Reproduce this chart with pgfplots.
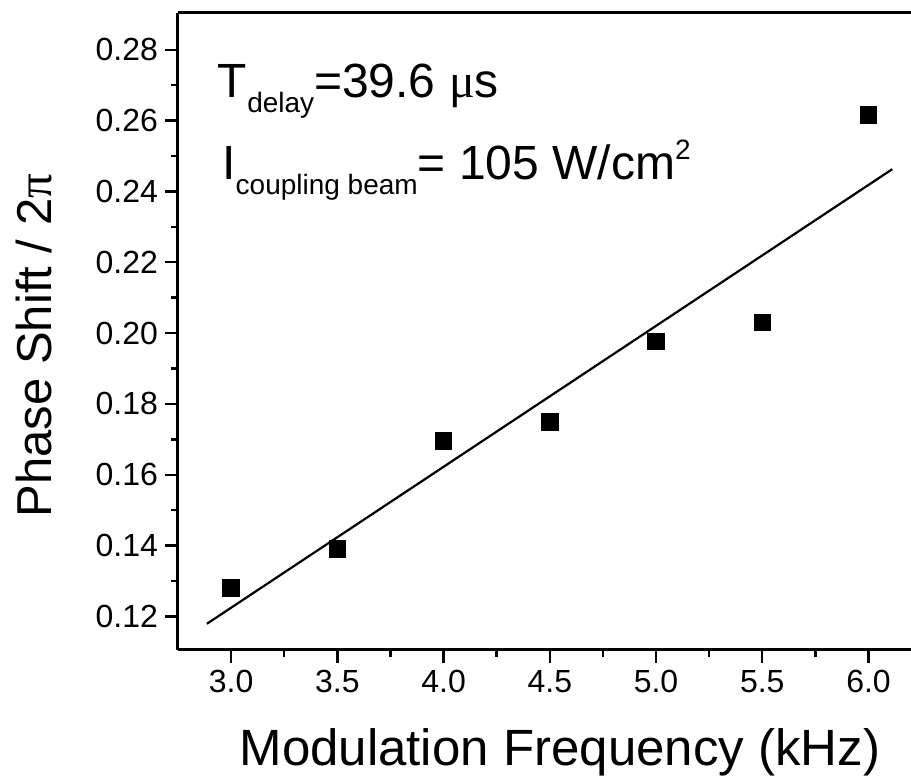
\documentclass[border=0pt]{standalone}
\usepackage{fontspec}
\setmainfont{Liberation Sans}
\newfontfamily\symfont{Liberation Serif}
\usepackage{pgfplots}
\pgfplotsset{compat=1.18}
\begin{document}
\begin{tikzpicture}
\begin{axis}[
  scale only axis,
  width=366.5pt, height=318.5pt,
  xmin=2.75, xmax=6.2, ymin=0.1105, ymax=0.2904,
  axis x line*=box, axis y line*=left,
  y axis line style={-},
  axis line style={line width=1.5pt},
  xtick={3.0,3.5,4.0,4.5,5.0,5.5,6.0},
  ytick={0.12,0.14,0.16,0.18,0.20,0.22,0.24,0.26,0.28},
  minor x tick num=1, minor y tick num=1,
  xtick pos=bottom, ytick pos=left,
  tick align=outside,
  major tick length=6.5pt, minor tick length=3.5pt,
  every tick/.style={black, line width=1.2pt},
  /pgf/number format/assume math mode=true,
  xticklabel style={font=\fontsize{16}{18}\selectfont, /pgf/number format/fixed, /pgf/number format/fixed zerofill, /pgf/number format/precision=1},
  yticklabel style={font=\fontsize{16}{18}\selectfont, /pgf/number format/fixed, /pgf/number format/fixed zerofill, /pgf/number format/precision=2},
  xlabel={Modulation Frequency (kHz)},
  ylabel={Phase Shift / 2{\symfont π}},
  xlabel style={font=\fontsize{25.5}{28}\selectfont, at={(ticklabel cs:0.521)}, yshift=-11pt},
  ylabel style={font=\fontsize{24.5}{27}\selectfont, at={(ticklabel cs:0.478)}, yshift=15pt},
  clip=false,
]
\addplot[only marks, mark=square*, mark size=4.15pt, black] coordinates {
  (3.0,0.1280) (3.5,0.1390) (4.0,0.1696) (4.5,0.1750) (5.0,0.1976) (5.5,0.2030) (6.0,0.2617)
};
\addplot[black, line width=1.1pt] coordinates {(2.886,0.1179) (6.112,0.2463)};
\node[anchor=base west, inner sep=0pt, font=\fontsize{24}{28}\selectfont] at (rel axis cs:0.054,0.868)
  {T\raisebox{-7.5pt}{\fontsize{14}{14}\selectfont delay}=39.6 {\symfont μ}s};
\node[anchor=base west, inner sep=0pt, font=\fontsize{24}{28}\selectfont] at (rel axis cs:0.060,0.738)
  {I\raisebox{-7.5pt}{\fontsize{14}{14}\selectfont coupling beam}= 105 W/cm\raisebox{10pt}{\fontsize{14}{14}\selectfont 2}};
\end{axis}
\pgfresetboundingbox
\path[use as bounding box] ([xshift=-89pt,yshift=-65.5pt]current axis.south west) rectangle ([yshift=6.5pt]current axis.north east);
\end{tikzpicture}
\end{document}
